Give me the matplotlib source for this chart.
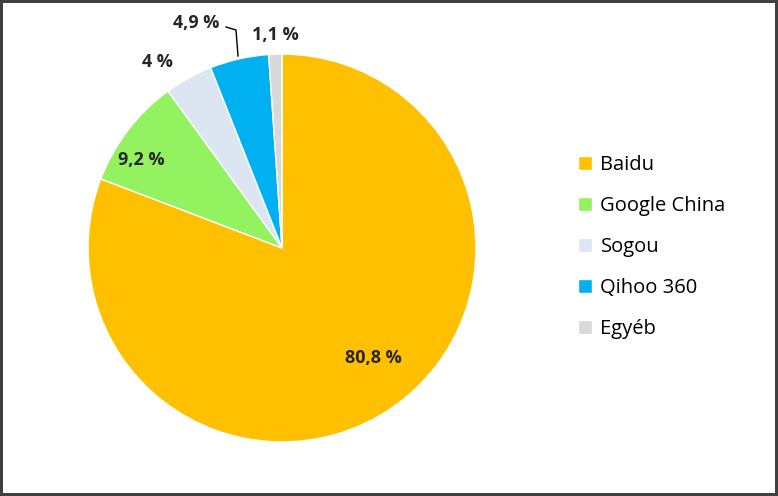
import matplotlib
matplotlib.use("Agg")
import matplotlib.pyplot as plt

categories = ["Baidu", "Google China", "Sogou", "Qihoo 360", "Egyéb"]
values = [80.8, 9.2, 4.0, 4.9, 1.1]
labels = ["80,8 %", "9,2 %", "4 %", "4,9 %", "1,1 %"]
colors = ["#FFC000", "#92F260", "#DCE6F2", "#00B0F0", "#D9D9D9"]

W, H = 778, 496
fig = plt.figure(figsize=(W/100, H/100), dpi=100)
fig.patch.set_edgecolor("#404040"); fig.patch.set_linewidth(3)
ax = fig.add_axes([0.113, 0.109, 0.499, 0.782])
wedges, _ = ax.pie(values, colors=colors, startangle=90, counterclock=False,
                   wedgeprops=dict(edgecolor="white", linewidth=1))
ax.set_aspect("equal")
ax.set_xlim(-1, 1); ax.set_ylim(-1, 1)

pos = [(373, 358), (141, 160), (157, 62), (196, 23), (275, 35)]
for (px, py), t in zip(pos, labels):
    fig.text(px/W, 1-py/H, t, ha="center", va="center", fontsize=13,
             fontweight="bold", family="Open Sans", color="#262626")
fig.add_artist(plt.Line2D([226/W, 236/W, 238/W], [1-27/H, 1-30/H, 1-56/H],
                          color="black", lw=1))

fig.legend(wedges, categories, loc="center left", bbox_to_anchor=(0.72, 0.502),
           frameon=False, prop=dict(family="Open Sans", size=14.5),
           handlelength=0.7, handleheight=0.7, labelspacing=1.05, handletextpad=0.4)
fig.savefig("out.png", dpi=100)
